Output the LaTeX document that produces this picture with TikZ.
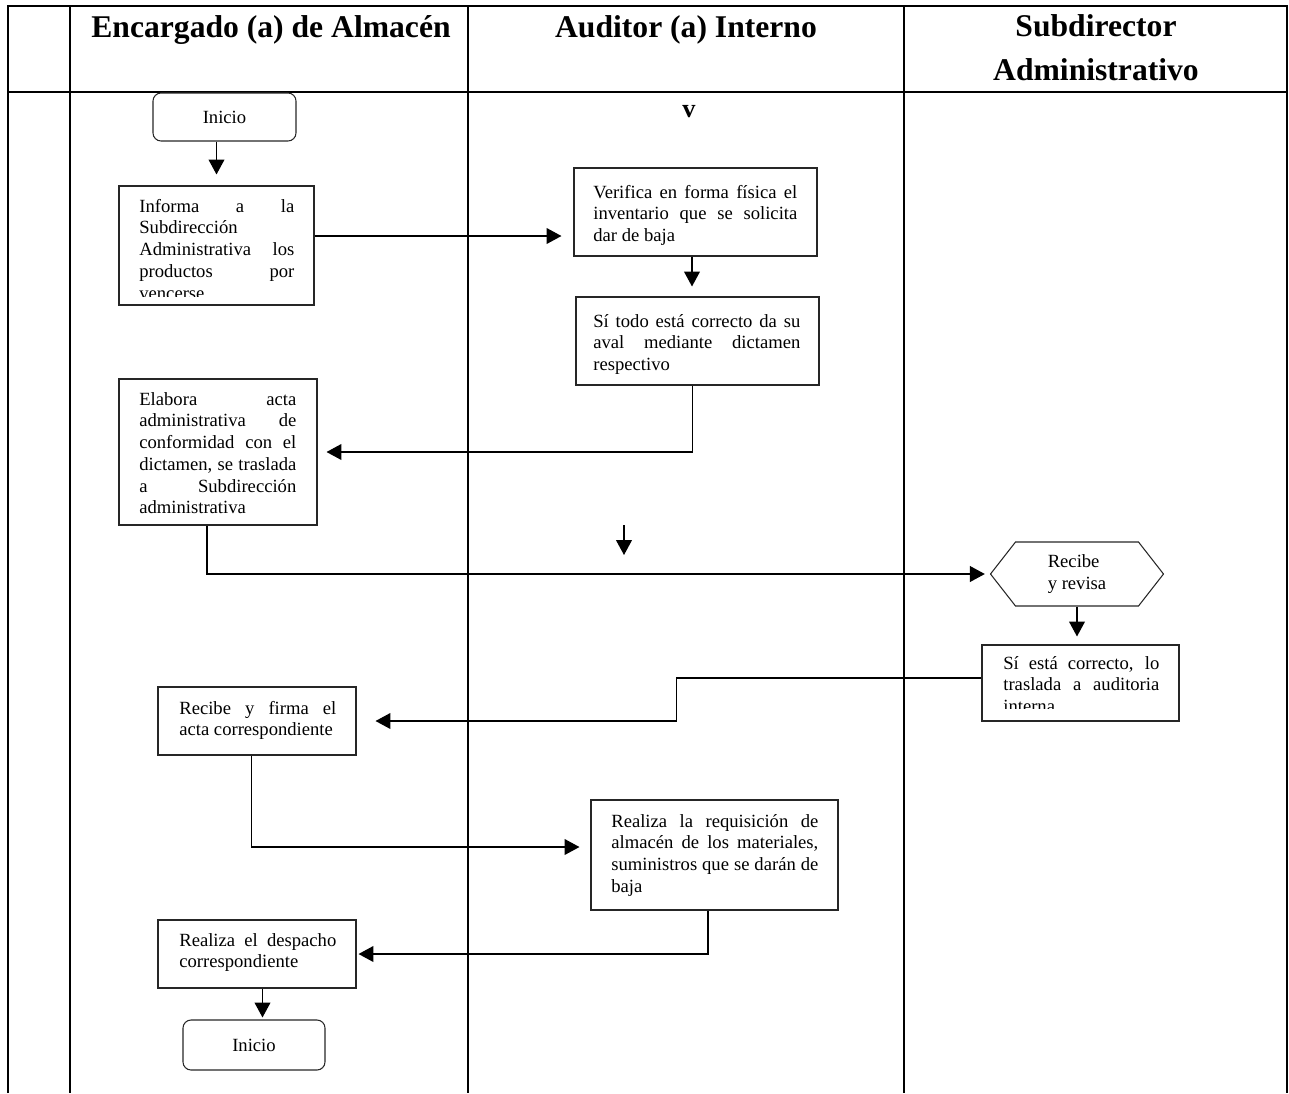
\documentclass[tikz,border=0pt]{standalone}
\usepackage{fontspec}
\setmainfont{Liberation Serif}
\usetikzlibrary{arrows.meta, fit, shapes.symbols}

\hyphenpenalty=10000
\exhyphenpenalty=10000
\tolerance=10000
\hbadness=10000

\tikzset{
  lane/.style={line width=1.6pt},
  box/.style={draw=black!85, line width=0.6pt, inner sep=0pt},
  term/.style={box, rounded corners=0.16cm},
  txt/.style={inner sep=0pt, anchor=base west, align=justify,
              font=\fontsize{10.6}{12.4}\selectfont},
  head/.style={anchor=base, align=center,
               font=\fontsize{18}{24.5}\selectfont\bfseries},
  flow/.style={-{Triangle[length=8.5pt,width=9pt]}, line width=0.8pt},
}

\begin{document}
\begin{tikzpicture}[x=0.02cm, y=-0.02cm]

  \useasboundingbox (0,0) rectangle (1289,1093);

  % swim lanes
  \draw[lane] (8,1093) -- (8,6) -- (1287,6) -- (1287,1093);
  \draw[lane] (8,92) -- (1287,92);
  \foreach \x in {70,468,904}{
    \draw[lane] (\x,6) -- (\x,1093);
  }

  \node[head] (h1) at (271,37) {Encargado (a) de Almacén};
  \node[head] (h2) at (686,37) {Auditor (a) Interno};
  % base of a two-line node sits on its last line
  \node[head] (h3) at (1096,80) {Subdirector\\Administrativo};

  % Encargado (a) de Almacen
  \node[term, fit={(153,93) (296,141)}] (ini1) {};
  \node[font=\fontsize{10.6}{12.4}\selectfont] at (ini1) {Inicio};

  \node[box, fit={(119,186) (314,305)}] (inf) {};
  \begin{scope}
    \clip (inf.north west) rectangle ([yshift=0.18cm]inf.south east);
    \node[txt, text width=155*0.02cm] at (139,212)
      {Informa a la\linebreak Subdirección\linebreak Administrativa los\linebreak
       productos por\linebreak vencerse};
  \end{scope}

  \node[box, fit={(119,379) (317,525)}] (ela) {};
  \node[txt, text width=157*0.02cm] at (139,405)
    {Elabora acta\linebreak administrativa de\linebreak conformidad con el\linebreak
     dictamen, se traslada\linebreak a Subdirección\linebreak administrativa};

  \node[box, fit={(158,687) (356,755)}] (rf) {};
  \node[txt, text width=157*0.02cm] at (179,714)
    {Recibe y firma el\linebreak acta correspondiente};

  \node[box, fit={(158,920) (356,988)}] (des) {};
  \node[txt, text width=157*0.02cm] at (179,946)
    {Realiza el despacho\linebreak correspondiente};

  \node[term, fit={(183,1020) (325,1070)}] (ini2) {};
  \node[font=\fontsize{10.6}{12.4}\selectfont] at (ini2) {Inicio};

  % Auditor (a) Interno
  \node[font=\fontsize{15}{17}\selectfont\bfseries] (v) at (689,112) {v};

  \node[box, fit={(574,168) (817,256)}] (ver) {};
  \node[txt, text width=204*0.02cm] at (593,198)
    {Verifica en forma física el\linebreak inventario que se solicita\linebreak dar de baja};

  \node[box, fit={(576,297) (819,385)}] (si) {};
  \node[txt, text width=207*0.02cm] at (593,327)
    {Sí todo está correcto da su\linebreak aval mediante dictamen\linebreak respectivo};

  \node[box, fit={(591,800) (838,910)}] (req) {};
  \node[txt, text width=207*0.02cm] at (611,827)
    {Realiza la requisición de\linebreak almacén de los materiales,\linebreak
     suministros que se darán de\linebreak baja};

  % Subdirector Administrativo
  \node[draw=black!85, line width=0.6pt, signal, signal to=east and west,
        signal pointer angle=104, minimum width=173*0.02cm,
        minimum height=64*0.02cm, inner sep=0pt, align=left,
        font=\fontsize{10.6}{12.4}\selectfont] (rev) at (1077,574)
    {Recibe\\y revisa};

  \node[box, fit={(982,645) (1179,721)}] (ok) {};
  \begin{scope}
    \clip (ok.north west) rectangle ([yshift=0.27cm]ok.south east);
    \node[txt, text width=156*0.02cm] at (1003,669)
      {Sí está correcto, lo\linebreak traslada a auditoria\linebreak interna};
  \end{scope}

  % connectors
  \draw[flow, shorten >=0.22cm] (inf.north |- ini1.south) -- (inf.north);
  \draw[flow, shorten >=0.24cm] ([yshift=0.19cm]inf.east)
        -- ([yshift=0.19cm]inf.east -| ver.west);
  \draw[flow, shorten >=0.2cm] ([xshift=-0.07cm]ver.south)
        -- ([xshift=-0.07cm]ver.south |- si.north);
  \draw[flow, shorten >=0.18cm] ([xshift=-0.1cm]si.south) |- (ela.east);
  \draw[flow, shorten >=0.1cm] ([xshift=-0.22cm]ela.south) |- (rev.west);

  \coordinate (s1) at (624,525);
  \coordinate (s2) at (624,555);
  \draw[flow] (s1) -- (s2);

  \draw[flow, shorten >=0.16cm] (rev.south) -- (rev.south |- ok.north);
  \draw[flow, shorten >=0.38cm] ([yshift=0.1cm]ok.west) -- ++(-305,0) |- (rf.east);
  \draw[flow, shorten >=0.22cm] ([xshift=-0.11cm]rf.south) |- ([yshift=0.16cm]req.west);
  \draw[flow, shorten >=0.04cm] ([xshift=-0.13cm]req.south) |- (des.east);
  \draw[flow, shorten >=0.04cm] ([xshift=0.11cm]des.south)
        -- ([xshift=0.11cm]des.south |- ini2.north);

\end{tikzpicture}
\end{document}
